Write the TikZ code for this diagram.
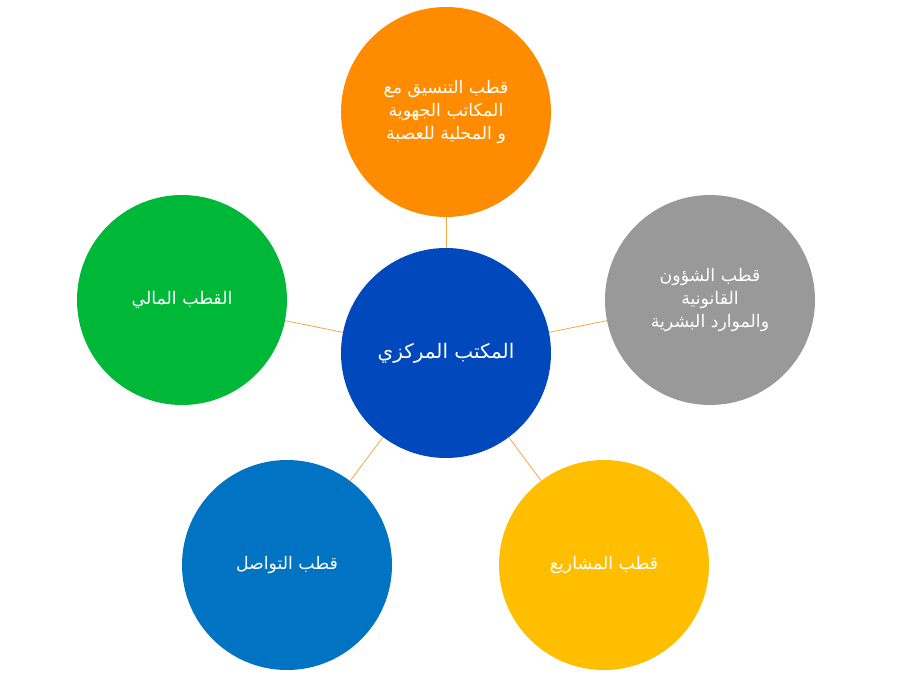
\documentclass[tikz,border=0pt]{standalone}
\usepackage{fontspec}
\newfontfamily\arabicfont[Script=Arabic]{DejaVu Sans}
\TeXXeTstate=1
\definecolor{corange}{HTML}{FF8C00}
\definecolor{cgray}{HTML}{999999}
\definecolor{cgreen}{HTML}{00B838}
\definecolor{cblue}{HTML}{0048BC}
\definecolor{cblue2}{HTML}{0073C2}
\definecolor{cyellow}{HTML}{FFBF00}
\definecolor{cline}{HTML}{F4A64A}
\newcommand{\ar}[1]{\beginR #1\endR}
\begin{document}
\begin{tikzpicture}[x=0.75pt,y=-0.75pt,
  bub/.style={circle,minimum size=157.5pt,inner sep=0pt,text=white,align=center,font=\arabicfont\fontsize{13}{17}\selectfont},
  conn/.style={draw=cline,line width=0.6pt}]
\useasboundingbox (0,0) rectangle (900,675);
\node[bub,fill=cblue,font=\arabicfont\fontsize{15}{19}\selectfont] (c) at (446,353) {\ar{المكتب المركزي}};
\node[bub,fill=corange] (t) at (446,112) {\ar{قطب التنسيق مع}\\\ar{المكاتب الجهوية}\\\ar{و المحلية للعصبة}};
\node[bub,fill=cgray] (r) at (710,300) {\ar{قطب الشؤون}\\\ar{القانونية}\\\ar{والموارد البشرية}};
\node[bub,fill=cgreen] (l) at (182,300) {\ar{القطب المالي}};
\node[bub,fill=cyellow] (br) at (604,565) {\ar{قطب المشاريع}};
\node[bub,fill=cblue2] (bl) at (287,565) {\ar{قطب التواصل}};
\foreach \n in {t,r,l,br,bl} \draw[conn] (c) -- (\n);
\end{tikzpicture}
\end{document}
